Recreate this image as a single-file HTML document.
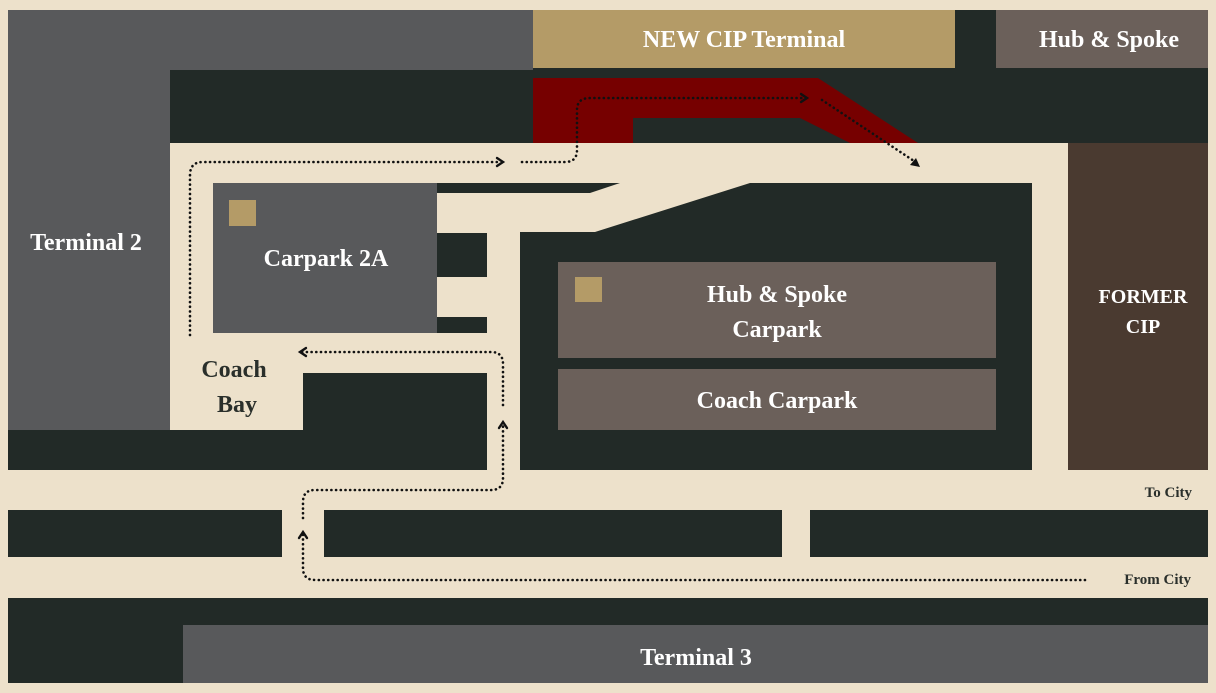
<!DOCTYPE html>
<html><head><meta charset="utf-8"><style>
html,body{margin:0;padding:0;background:#ede1cb;}
svg{display:block}
text{font-family:"Liberation Serif",serif;font-weight:bold;}
</style></head><body>
<svg width="1216" height="693" viewBox="0 0 1216 693" xmlns="http://www.w3.org/2000/svg">
<rect x="0" y="0" width="1216" height="693" fill="#ede1cb"/>
<!-- top area -->
<rect x="8" y="10" width="525" height="60" fill="#58595b"/>
<rect x="8" y="10" width="162" height="420" fill="#58595b"/>
<rect x="533" y="10" width="422" height="58" fill="#b49b67"/>
<rect x="533" y="68" width="422" height="2" fill="#222a27"/>
<rect x="955" y="10" width="41" height="60" fill="#222a27"/>
<rect x="996" y="10" width="212" height="58" fill="#6b605a"/>
<rect x="996" y="68" width="212" height="2" fill="#222a27"/>
<rect x="170" y="70" width="1038" height="73" fill="#222a27"/>
<polygon points="533,78 818,78 918,143 850,143 800,118 633,118 633,143 533,143" fill="#760000"/>
<!-- middle -->
<rect x="213" y="183" width="224" height="150" fill="#58595b"/>
<polygon points="437,183 620,183 590,193 437,193" fill="#222a27"/>
<rect x="437" y="233" width="50" height="44" fill="#222a27"/>
<rect x="437" y="317" width="50" height="16" fill="#222a27"/>
<rect x="303" y="373" width="184" height="97" fill="#222a27"/>
<rect x="8" y="430" width="479" height="40" fill="#222a27"/>
<polygon points="520,232 595,232 750,183 1032,183 1032,470 520,470" fill="#222a27"/>
<rect x="1068" y="143" width="140" height="327" fill="#4a3a30"/>
<rect x="558" y="262" width="438" height="96" fill="#6b605a"/>
<rect x="558" y="369" width="438" height="61" fill="#6b605a"/>
<rect x="229" y="200" width="27" height="26" fill="#b49b67"/>
<rect x="575" y="277" width="27" height="25" fill="#b49b67"/>
<!-- bottom -->
<rect x="8" y="510" width="274" height="47" fill="#222a27"/>
<rect x="324" y="510" width="458" height="47" fill="#222a27"/>
<rect x="810" y="510" width="398" height="47" fill="#222a27"/>
<rect x="8" y="598" width="1200" height="85" fill="#222a27"/>
<rect x="183" y="625" width="1025" height="58" fill="#58595b"/>
<!-- dotted paths -->
<g fill="none" stroke="#111" stroke-width="2.6" stroke-dasharray="0.1 4.6" stroke-linecap="round" stroke-linejoin="round">
<path d="M190,335 L190,175 Q190,162 203,162 L498,162"/>
<path d="M522,162 L565,162 Q577,162 577,150 L577,110 Q577,98 590,98 L802,98"/>
<path d="M822,100 L914,161"/>
<path d="M1085,580 L315,580 Q303,580 303,568 L303,534"/>
<path d="M303,518 L303,502 Q303,490 315,490 L491,490 Q503,490 503,478 L503,424"/>
<path d="M503,405 L503,364 Q503,352 491,352 L302,352"/>
</g>
<g fill="none" stroke="#111" stroke-width="2.4" stroke-linecap="round">
<path d="M497,158 L503,162 L497,166"/>
<path d="M801,94 L807,98 L801,102"/>
<path d="M299,538 L303,532 L307,538"/>
<path d="M499,428 L503,422 L507,428"/>
<path d="M306,348 L300,352 L306,356"/>
</g>
<polygon points="920,167 910,165 916,158" fill="#111"/>
<!-- labels -->
<g fill="#ffffff" text-anchor="middle">
<text x="744" y="47" font-size="24">NEW CIP Terminal</text>
<text x="1109" y="47" font-size="24">Hub &amp; Spoke</text>
<text x="86" y="250" font-size="24">Terminal 2</text>
<text x="326" y="266" font-size="24">Carpark 2A</text>
<text x="777" y="302" font-size="24">Hub &amp; Spoke</text>
<text x="777" y="337" font-size="24">Carpark</text>
<text x="777" y="408" font-size="24">Coach Carpark</text>
<text x="1143" y="303" font-size="20">FORMER</text>
<text x="1143" y="333" font-size="20">CIP</text>
<text x="696" y="665" font-size="24">Terminal 3</text>
</g>
<g fill="#2a2f2b">
<text x="234" y="377" font-size="24" text-anchor="middle">Coach</text>
<text x="237" y="412" font-size="24" text-anchor="middle">Bay</text>
<text x="1192" y="497" font-size="15" text-anchor="end">To City</text>
<text x="1191" y="584" font-size="15" text-anchor="end">From City</text>
</g>
</svg>
</body></html>
